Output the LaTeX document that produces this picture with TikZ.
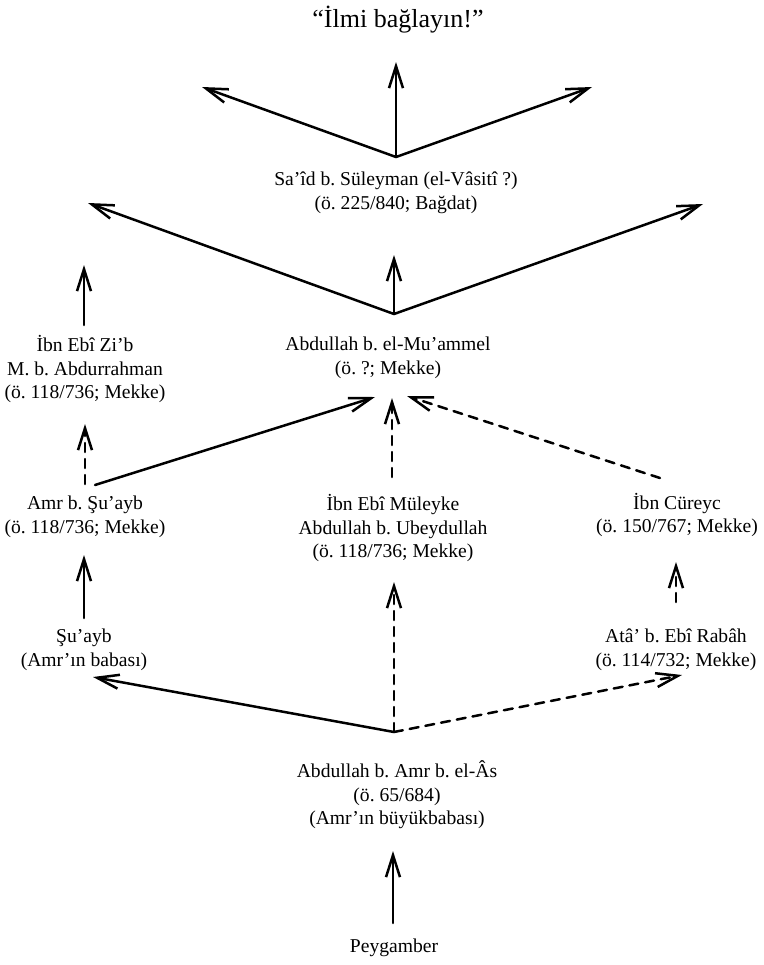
\documentclass[tikz,border=0pt]{standalone}
\usepackage{fontspec}
\setmainfont{Liberation Serif}
\usetikzlibrary{arrows.meta,calc}
\frenchspacing
\begin{document}
\begin{tikzpicture}[x=0.5pt,y=-0.5pt,
  lbl/.style={align=center,inner sep=0pt,font=\fontsize{9.8}{11.75}\selectfont\frenchspacing},
  ttl/.style={inner sep=0pt,font=\fontsize{13}{15}\selectfont},
  arr/.style={line width=1.25pt,line cap=round,-{Straight Barb[length=11pt,width=7pt]}},
  darr/.style={arr,dash pattern=on 4.5pt off 3.5pt}]
\useasboundingbox (0,0) rectangle (764,965);

% nodes
\node[ttl] (title) at (398,20) {“İlmi bağlayın!”};
\node[lbl] (said) at (396,193) {Sa’îd b. Süleyman (el-Vâsitî ?)\\(ö. 225/840; Bağdat)};
\node[lbl] (muammel) at (388,358) {Abdullah b. el-Mu’ammel\\(ö. ?; Mekke)};
\node[lbl] (zib) at (85,369) {İbn Ebî Zi’b\\M. b. Abdurrahman\\(ö. 118/736; Mekke)};
\node[lbl] (amr) at (85,517) {Amr b. Şu’ayb\\(ö. 118/736; Mekke)};
\node[lbl] (muleyke) at (393,528) {İbn Ebî Müleyke\\Abdullah b. Ubeydullah\\(ö. 118/736; Mekke)};
\node[lbl] (cureyc) at (677,515) {İbn Cüreyc\\(ö. 150/767; Mekke)};
\node[lbl] (suayb) at (84,650) {Şu’ayb\\(Amr’ın babası)};
\node[lbl] (ata) at (676,650) {Atâ’ b. Ebî Rabâh\\(ö. 114/732; Mekke)};
\node[lbl] (abdamr) at (397,795) {Abdullah b. Amr b. el-Âs\\(ö. 65/684)\\(Amr’ın büyükbabası)};
\node[lbl] (peygamber) at (394,948) {Peygamber};

% fan origins and free ends
\coordinate (f1) at ($(said)+(0,-36)$);
\coordinate (t1up) at (396,62);
\coordinate (t1left) at (202,87);
\coordinate (t1right) at (592,87);
\coordinate (f2) at ($(muammel)+(6,-44)$);
\coordinate (t2left) at (88,203);
\coordinate (t2right) at (703,204);
\coordinate (tzib) at (84,265);
\coordinate (f3) at ($(abdamr)+(-3,-63)$);

% top fan from Sa'id
\draw[arr] (f1) -- (t1up);
\draw[arr] (f1) -- (t1left);
\draw[arr] (f1) -- (t1right);

% fan from Mu'ammel
\draw[arr] (f2) -- ($(said)+(-2,62)$);
\draw[arr] (f2) -- (t2left);
\draw[arr] (f2) -- (t2right);

% Ibn Ebi Zi'b onward
\draw[arr] ($(zib)+(-1,-44)$) -- (tzib);

% Amr b. Su'ayb
\draw[darr] ($(amr)+(0,-33)$) -- ($(zib)+(0,55)$);
\draw[arr] ($(amr)+(10,-32)$) -- ($(muammel)+(-13,39)$);

% Ibn Ebi Muleyke
\draw[darr] ($(muleyke)+(-1,-51)$) -- ($(muammel)+(4,40)$);

% Ibn Cureyc
\draw[darr] ($(cureyc)+(-17,-37)$) -- ($(muammel)+(19,38)$);

% Ata -> Ibn Cureyc
\draw[darr] ($(ata)+(0,-48)$) -- ($(cureyc)+(-1,47)$);

% Su'ayb -> Amr
\draw[arr] ($(suayb)+(0,-32)$) -- ($(amr)+(-1,38)$);

% bottom fan from Abdullah b. Amr
\draw[arr] (f3) -- ($(suayb)+(9,27)$);
\draw[darr] (f3) -- ($(muleyke)+(1,54)$);
\draw[darr] (f3) -- ($(ata)+(6,25)$);

% Peygamber -> Abdullah b. Amr
\draw[arr] ($(peygamber)+(-1,-25)$) -- ($(abdamr)+(-4,56)$);
\end{tikzpicture}
\end{document}
